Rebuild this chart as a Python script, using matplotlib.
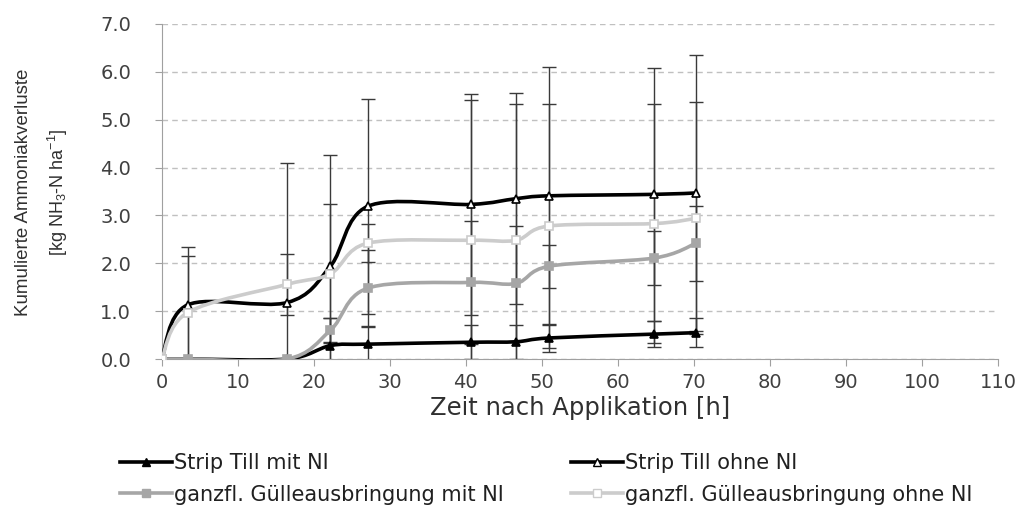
import numpy as np
import matplotlib.pyplot as plt
from matplotlib.path import Path
from matplotlib.patches import PathPatch
from matplotlib.lines import Line2D

plt.rcParams['mathtext.fontset'] = 'custom'
plt.rcParams['mathtext.rm'] = 'Liberation Sans'
plt.rcParams['mathtext.it'] = 'Liberation Sans:italic'

# Messzeitpunkte [h]
zeit = [0, 3.4, 16.5, 22.2, 27.1, 40.7, 46.6, 51.0, 64.8, 70.3]

# kumulierte NH3-Verluste [kg NH3-N/ha]
st_mit = [0, 0, 0, 0.28, 0.31, 0.35, 0.36, 0.44, 0.52, 0.55]
st_ohne = [0, 1.13, 1.18, 1.94, 3.19, 3.23, 3.35, 3.41, 3.44, 3.47]
gf_mit = [0, 0, 0, 0.60, 1.48, 1.60, 1.58, 1.94, 2.11, 2.42]
gf_ohne = [0, 0.97, 1.56, 1.78, 2.42, 2.48, 2.48, 2.78, 2.83, 2.94]

# Standardabweichungen
st_mit_err = [0, 0, 0, 0.57, 0.36, 0.36, 0.35, 0.30, 0.27, 0.30]
st_ohne_err = [0, 1.21, 2.92, 2.33, 2.25, 2.31, 2.20, 2.70, 2.65, 2.88]
gf_mit_err = [0, 0, 0, 0.25, 0.80, 1.28, 1.20, 0.45, 0.57, 0.78]
gf_ohne_err = [0, 1.18, 0.64, 1.45, 0.40, 2.93, 2.85, 2.55, 2.50, 2.42]

labels = ['Strip Till mit NI', 'Strip Till ohne NI',
          'ganzfl. Gülleausbringung mit NI', 'ganzfl. Gülleausbringung ohne NI']


def smooth_path(x, y):
    # Excel-artige geglaettete Linie (Catmull-Rom als Bezier)
    p = np.column_stack([x, y]).astype(float)
    pts = np.vstack([p[0], p, p[-1]])
    verts = [p[0]]
    codes = [Path.MOVETO]
    for i in range(1, len(pts) - 2):
        c1 = pts[i] + (pts[i + 1] - pts[i - 1]) / 6
        c2 = pts[i + 1] - (pts[i + 2] - pts[i]) / 6
        verts += [c1, c2, pts[i + 1]]
        codes += [Path.CURVE4] * 3
    return Path(verts, codes)


fig = plt.figure(figsize=(10.22, 5.08), dpi=100)
ax = fig.add_axes([0.1582, 0.2933, 0.8183, 0.6595])

styles = [
    dict(color='black', marker='^', mfc='black', mec='black'),
    dict(color='black', marker='^', mfc='white', mec='black'),
    dict(color='#a6a6a6', marker='s', mfc='#a6a6a6', mec='#a6a6a6'),
    dict(color='#cccccc', marker='s', mfc='white', mec='#cccccc'),
]
series = [st_mit, st_ohne, gf_mit, gf_ohne]
errs = [st_mit_err, st_ohne_err, gf_mit_err, gf_ohne_err]

for vals, err, st in zip(series, errs, styles):
    ax.errorbar(zeit, vals, yerr=err, fmt='none', ecolor='#3a3a3a',
                elinewidth=1, capsize=5, capthick=1, zorder=2)
for vals, st in zip(series, styles):
    ax.add_patch(PathPatch(smooth_path(zeit, vals), fill=False,
                           edgecolor=st['color'], lw=2.6, zorder=3))
    ax.plot(zeit, vals, ls='none', marker=st['marker'], ms=5.5,
            mfc=st['mfc'], mec=st['mec'], mew=1.2, zorder=4)

ax.set_xlim(0, 110)
ax.set_ylim(0, 7)
ax.set_xticks(np.arange(0, 111, 10))
ax.set_yticks(np.arange(0, 7.1, 1))
ax.set_yticklabels(['%.1f' % v for v in np.arange(0, 7.1, 1)])
ax.grid(axis='y', color='#c0c0c0', ls=(0, (4, 3)), lw=1)
ax.set_axisbelow(True)
for s in ['top', 'right']:
    ax.spines[s].set_visible(False)
for s in ['left', 'bottom']:
    ax.spines[s].set_color('#a0a0a0')
ax.tick_params(axis='both', colors='#a0a0a0', labelcolor='#404040',
               labelsize=14, length=5)
ax.tick_params(axis='x', pad=5)
ax.tick_params(axis='y', pad=17)

ax.set_xlabel('Zeit nach Applikation [h]', fontsize=17.5,
              color='#303030', labelpad=3)

fig.text(0.023, 0.622, 'Kumulierte Ammoniakverluste', rotation=90,
         ha='center', va='center', fontsize=13.5,
         family='Liberation Sans', color='#303030')
fig.text(0.057, 0.622, r'[kg NH$_3$-N ha$^{-1}$]', rotation=90,
         ha='center', va='center', fontsize=13,
         family='Liberation Sans', color='#303030')

# Legende zeilenweise wie im Original
handles = [Line2D([], [], color=st['color'], lw=2.6, marker=st['marker'],
                  ms=5.5, mfc=st['mfc'], mec=st['mec']) for st in styles]
order = [0, 2, 1, 3]
fig.legend([handles[i] for i in order], [labels[i] for i in order],
           ncol=2, loc='upper left',
           bbox_to_anchor=(0.099, 0.145), frameon=False,
           prop={'family': 'DejaVu Sans', 'size': 15},
           handlelength=2.5, handletextpad=0.1, columnspacing=3.2,
           labelspacing=0.55, labelcolor='#202020')

fig.savefig('out.png', dpi=100)
